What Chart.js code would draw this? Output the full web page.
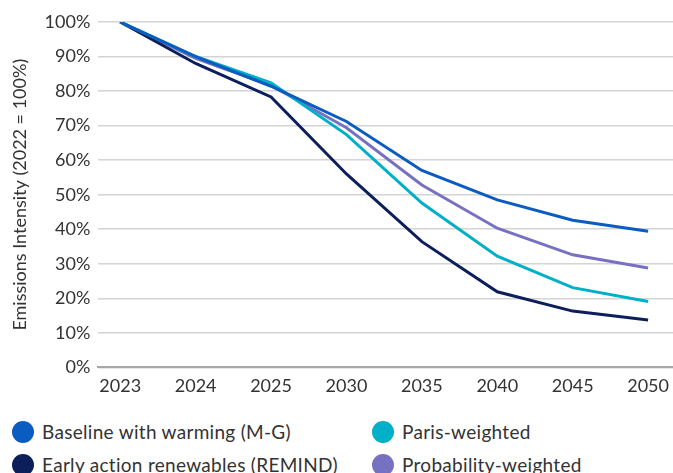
<!DOCTYPE html>
<html>
<head>
<meta charset="utf-8">
<script src="https://cdn.jsdelivr.net/npm/chart.js@4/dist/chart.umd.min.js"></script>
<style>
  html, body { margin: 0; padding: 0; background: #ffffff; }
  #wrap { position: relative; width: 673px; height: 473px; overflow: hidden; }
  #chartBox { position: absolute; left: 0; top: 0; width: 673px; height: 405px; }
  #legend { position: absolute; left: 0; top: 419px; width: 673px; font-family: Lato, sans-serif; font-size: 19px; color: #333333; }
  .item { position: absolute; height: 26px; line-height: 26px; white-space: nowrap; }
  .dot { position: absolute; left: 0; top: 2px; width: 22px; height: 22px; border-radius: 50%; }
  .lbl { position: absolute; left: 30px; top: 0; letter-spacing: 0.3px; }
</style>
</head>
<body>
<div id="wrap">
  <div id="chartBox"><canvas id="chart"></canvas></div>
  <div id="legend"></div>
</div>
<script>
  var years = ['2023', '2024', '2025', '2030', '2035', '2040', '2045', '2050'];

  var baseline = [100, 90.0, 81.4, 71.2, 57.0, 48.5, 42.6, 39.4];
  var paris    = [100, 90.0, 82.4, 67.4, 47.6, 32.2, 23.1, 19.1];
  var early    = [100, 88.0, 78.3, 56.0, 36.4, 21.9, 16.3, 13.7];
  var prob     = [100, 89.5, 81.6, 69.4, 52.8, 40.3, 32.6, 28.8];

  var seriesNames = [
    'Baseline with warming (M-G)',
    'Paris-weighted',
    'Early action renewables (REMIND)',
    'Probability-weighted'
  ];
  var seriesColors = ['#0b5cc0', '#00afc8', '#0c1f5b', '#7771c2'];
  var seriesValues = [baseline, paris, early, prob];

  function toPoints(arr) {
    return arr.map(function (v, i) { return { x: i, y: v }; });
  }

  var datasets = seriesValues.map(function (vals, i) {
    return {
      label: seriesNames[i],
      data: toPoints(vals),
      borderColor: seriesColors[i],
      backgroundColor: seriesColors[i],
      borderWidth: 3,
      pointRadius: 0,
      tension: 0,
      fill: false
    };
  });

  var font = { family: 'Lato', size: 18 };
  var textColor = '#333333';

  new Chart(document.getElementById('chart').getContext('2d'), {
    type: 'line',
    data: { datasets: datasets },
    options: {
      responsive: true,
      maintainAspectRatio: false,
      animation: false,
      layout: { padding: { top: 22, right: 0, left: 9, bottom: 0 } },
      plugins: {
        legend: { display: false },
        tooltip: { enabled: false }
      },
      scales: {
        x: {
          type: 'linear',
          min: -0.29,
          max: 7.33,
          grid: { display: false, drawTicks: false },
          border: { display: true, color: '#a6a6a6', width: 2 },
          afterFit: function (s) { s.paddingLeft = 0; s.paddingRight = 0; },
          ticks: {
            stepSize: 1,
            includeBounds: false,
            color: textColor,
            font: font,
            padding: 8,
            maxRotation: 0,
            autoSkip: false,
            callback: function (v) {
              return Number.isInteger(v) && years[v] ? years[v] : '';
            }
          }
        },
        y: {
          min: 0,
          max: 100,
          grid: { color: '#d4d4d4', lineWidth: 1.5, drawTicks: false },
          border: { display: false },
          ticks: {
            stepSize: 10,
            color: textColor,
            font: font,
            padding: 8,
            callback: function (v) { return v + '%'; }
          },
          title: {
            display: true,
            text: 'Emissions Intensity (2022 = 100%)',
            color: textColor,
            font: { family: 'Lato', size: 18 },
            padding: { top: 0, bottom: 6 }
          }
        }
      }
    }
  });

  // legend in two columns
  var legendPos = [[12, 0], [372, 0], [12, 33], [372, 33]];
  var legend = document.getElementById('legend');
  seriesNames.forEach(function (name, i) {
    var item = document.createElement('div');
    item.className = 'item';
    item.style.left = legendPos[i][0] + 'px';
    item.style.top = legendPos[i][1] + 'px';
    item.innerHTML = '<span class="dot" style="background:' + seriesColors[i] + '"></span><span class="lbl"></span>';
    item.querySelector('.lbl').textContent = name;
    legend.appendChild(item);
  });
</script>
</body>
</html>
